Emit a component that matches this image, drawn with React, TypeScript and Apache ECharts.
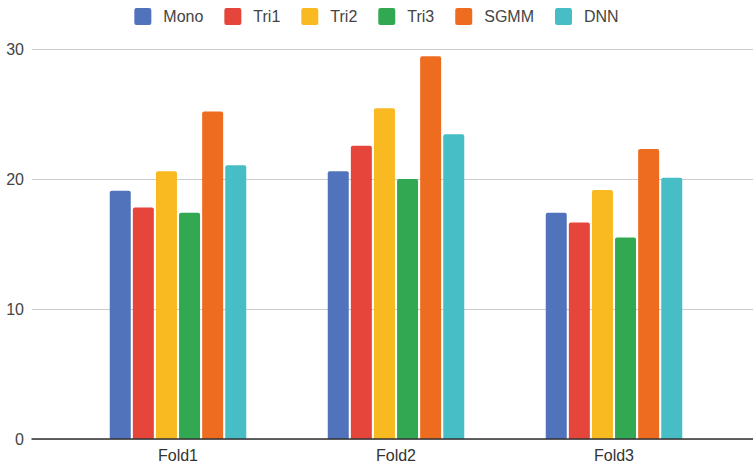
import React, { useEffect, useRef } from "react";
import * as echarts from "echarts";

const categories = ["Fold1", "Fold2", "Fold3"];
const seriesNames = ["Mono", "Tri1", "Tri2", "Tri3", "SGMM", "DNN"];
const mono = [19.1, 20.6, 17.4];
const tri1 = [17.8, 22.55, 16.65];
const tri2 = [20.6, 25.45, 19.15];
const tri3 = [17.4, 20.0, 15.5];
const sgmm = [25.2, 29.45, 22.3];
const dnn = [21.05, 23.45, 20.1];
const yTicks = [0, 10, 20, 30];
const colors = ["#5073BB", "#E5453A", "#F8B921", "#33A853", "#EE6C20", "#47BDC6"];

export default function App() {
  const ref = useRef<HTMLDivElement>(null);
  useEffect(() => {
    if (!ref.current) return;
    const chart = echarts.init(ref.current, null, { renderer: "svg" });
    const values = [mono, tri1, tri2, tri3, sgmm, dnn];
    const font = "'Liberation Sans', Arial, sans-serif";
    const icon =
      "path://M2,0 H14 A2,2 0 0 1 16,2 V14 A2,2 0 0 1 14,16 H2 A2,2 0 0 1 0,14 V2 A2,2 0 0 1 2,0 Z";
    chart.setOption({
      animation: false,
      textStyle: { fontFamily: font },
      color: colors,
      legend: {
        top: 3,
        left: "center",
        icon,
        itemWidth: 17,
        itemHeight: 17,
        itemGap: 21,
        data: seriesNames,
        textStyle: { fontSize: 16, color: "#444", fontFamily: font, padding: [0, 0, 0, 7] },
      },
      grid: [
        { left: 32, right: 0, top: 49, height: 390, containLabel: false },
        { left: 69, width: 654, top: 49, height: 390, containLabel: false },
      ],
      xAxis: [
        {
          type: "category",
          gridIndex: 0,
          data: [""],
          axisLine: { show: true, lineStyle: { color: "#333", width: 1.5 } },
          axisTick: { show: false },
          axisLabel: { show: false },
          splitLine: { show: false },
          z: 5,
        },
        {
          type: "category",
          gridIndex: 1,
          data: categories,
          axisLine: { show: false },
          axisTick: { show: false },
          axisLabel: { fontSize: 16, color: "#333", margin: 8, fontFamily: font },
        },
      ],
      yAxis: [
        {
          type: "value",
          gridIndex: 0,
          min: yTicks[0],
          max: yTicks[yTicks.length - 1],
          interval: 10,
          axisLine: { show: false },
          axisTick: { show: false },
          axisLabel: { fontSize: 16, color: "#444", margin: 8, fontFamily: font },
          splitLine: { show: true, lineStyle: { color: "#cccccc", width: 1 } },
        },
        {
          type: "value",
          gridIndex: 1,
          min: yTicks[0],
          max: yTicks[yTicks.length - 1],
          interval: 10,
          show: false,
          splitLine: { show: false },
        },
      ],
      series: seriesNames.map((name, i) => ({
        name,
        type: "bar",
        xAxisIndex: 1,
        yAxisIndex: 1,
        data: values[i],
        barWidth: 21,
        barGap: "10%",
        itemStyle: { color: colors[i], borderRadius: [2, 2, 0, 0] },
      })),
    });
    return () => chart.dispose();
  }, []);
  return (
    <div
      ref={ref}
      style={{ position: "fixed", left: 0, top: 0, width: 753, height: 465, background: "#fff" }}
    />
  );
}
